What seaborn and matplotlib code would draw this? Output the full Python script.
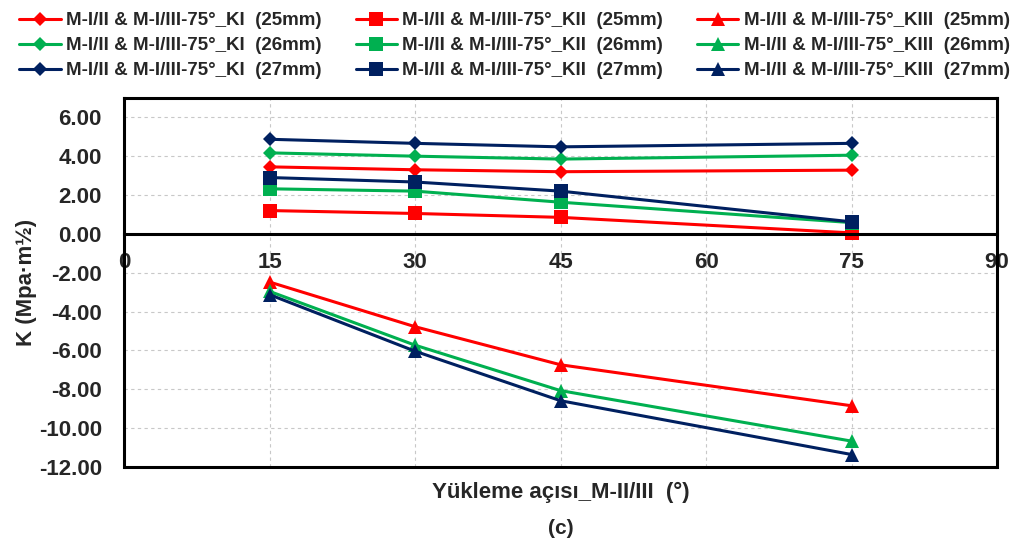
import numpy as np
import pandas as pd
import matplotlib
matplotlib.use('Agg')
import matplotlib.pyplot as plt
import seaborn as sns

sns.set_style('white')
plt.rcParams['font.family'] = ['Liberation Sans', 'DejaVu Sans']
plt.rcParams['font.weight'] = 'bold'
plt.rcParams['axes.unicode_minus'] = False

# data
angles = [15, 30, 45, 75]

ki_25 = [3.45, 3.30, 3.20, 3.28]
ki_26 = [4.17, 4.00, 3.85, 4.05]
ki_27 = [4.87, 4.66, 4.48, 4.66]

kii_25 = [1.20, 1.05, 0.85, 0.05]
kii_26 = [2.32, 2.20, 1.63, 0.58]
kii_27 = [2.90, 2.67, 2.20, 0.62]

kiii_25 = [-2.48, -4.78, -6.74, -8.85]
kiii_26 = [-2.96, -5.73, -8.07, -10.67]
kiii_27 = [-3.13, -6.04, -8.59, -11.36]

sizes = ['25mm', '26mm', '27mm']
colors = {'25mm': '#FF0000', '26mm': '#00B050', '27mm': '#002060'}

series = [
    ('KI', 'D', 7, [ki_25, ki_26, ki_27]),
    ('KII', 's', 10, [kii_25, kii_26, kii_27]),
    ('KIII', '^', 10, [kiii_25, kiii_26, kiii_27]),
]

fig, ax = plt.subplots(figsize=(10.21, 5.5), dpi=100)
fig.subplots_adjust(left=0.1215, right=0.9765, top=0.822, bottom=0.151)

for mode, marker, ms, groups in series:
    for size, vals in zip(sizes, groups):
        df = pd.DataFrame({'angle': angles, 'K': vals})
        sns.lineplot(data=df, x='angle', y='K', ax=ax, color=colors[size],
                     marker=marker, markersize=ms, markeredgewidth=0,
                     linewidth=2.2,
                     label=f'M-I/II & M-I/III-75°_{mode}  ({size})')

ax.set_xlim(0, 90)
ax.set_ylim(-12, 7)
ax.set_xticks([0, 15, 30, 45, 60, 75, 90])
ax.set_yticks(np.arange(-12, 7, 2))
ax.yaxis.set_major_formatter(matplotlib.ticker.FormatStrFormatter('%.2f'))

ax.grid(True, color='#C8C8C8', linestyle=(0, (3, 3)), linewidth=0.8)
ax.set_axisbelow(True)

for sp in ax.spines.values():
    sp.set_color('black')
    sp.set_linewidth(2.2)
ax.spines['bottom'].set_position(('data', 0))
ax.axhline(-12, color='black', linewidth=2.2, clip_on=False)

ax.tick_params(axis='x', direction='in', length=5, width=1.5, pad=13,
               labelsize=16)
ax.tick_params(axis='y', length=0, pad=16, labelsize=16)
for lab in ax.get_xticklabels() + ax.get_yticklabels():
    lab.set_fontweight('bold')

ax.set_xlabel('')
ax.set_ylabel('K (Mpa·m½)', fontsize=16, fontweight='bold', labelpad=1)

fig.text(0.549, 0.105, 'Yükleme açısı_M-II/III  (°)', ha='center',
         va='center', fontsize=16, fontweight='bold')
fig.text(0.549, 0.04, '(c)', ha='center', va='center', fontsize=15,
         fontweight='bold')

handles, labels = ax.get_legend_handles_labels()
ax.get_legend().remove()
fig.legend(handles, labels, ncol=3, loc='upper left',
           bbox_to_anchor=(0.008, 0.998), frameon=False,
           prop={'size': 13.5, 'weight': 'bold'}, handlelength=2.2,
           handletextpad=0.3, columnspacing=1.8, labelspacing=0.42,
           borderaxespad=0.2)

fig.savefig('out.png', dpi=100)
